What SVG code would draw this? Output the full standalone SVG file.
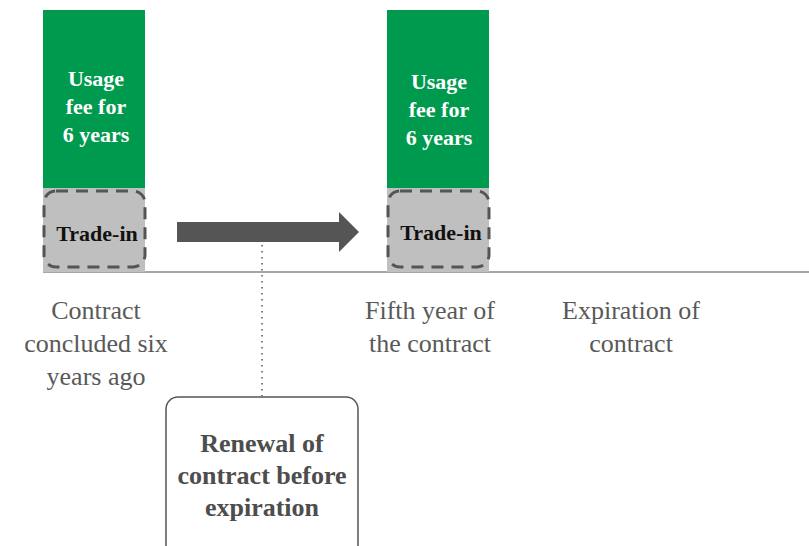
<svg xmlns="http://www.w3.org/2000/svg" width="809" height="546" viewBox="0 0 809 546">
<style>
.green{fill:#009a4e}
.gray{fill:#bfbfbf}
.dash{fill:none;stroke:#555;stroke-width:3;stroke-dasharray:12 8}
</style>
<rect x="0" y="0" width="809" height="546" fill="#fff"/>
<g id="connectors">
<line x1="43" y1="272" x2="809" y2="272" stroke="#a6a6a6" stroke-width="2"/>
<polygon points="177,222 339,222 339,212 359,232 339,252 339,242 177,242" fill="#555"/>
<line x1="262" y1="233" x2="262" y2="396" stroke="#555" stroke-width="1.5" stroke-dasharray="1.5 4.5"/>
</g>
<g id="bar1">
<rect class="green" x="43" y="10" width="102" height="178"/>
<text x="96" y="86" font-family="Liberation Serif" font-weight="bold" font-size="22" fill="#fff" text-anchor="middle">Usage</text>
<text x="96" y="114" font-family="Liberation Serif" font-weight="bold" font-size="22" fill="#fff" text-anchor="middle">fee for</text>
<text x="96" y="142" font-family="Liberation Serif" font-weight="bold" font-size="22" fill="#fff" text-anchor="middle">6 years</text>
</g>
<g id="tradein1">
<rect class="gray" x="43" y="188" width="102" height="84"/>
<rect class="dash" x="44" y="191" width="101" height="76" rx="12"/>
<text x="97" y="241" font-family="Liberation Serif" font-weight="bold" font-size="22" fill="#111" text-anchor="middle">Trade-in</text>
</g>
<g id="bar2">
<rect class="green" x="387" y="10" width="102" height="178"/>
<text x="439" y="89" font-family="Liberation Serif" font-weight="bold" font-size="22" fill="#fff" text-anchor="middle">Usage</text>
<text x="439" y="117" font-family="Liberation Serif" font-weight="bold" font-size="22" fill="#fff" text-anchor="middle">fee for</text>
<text x="439" y="145" font-family="Liberation Serif" font-weight="bold" font-size="22" fill="#fff" text-anchor="middle">6 years</text>
</g>
<g id="tradein2">
<rect class="gray" x="387" y="188" width="102" height="84"/>
<rect class="dash" x="388" y="191" width="101" height="76" rx="12"/>
<text x="441" y="240" font-family="Liberation Serif" font-weight="bold" font-size="22" fill="#111" text-anchor="middle">Trade-in</text>
</g>
<g id="label1">
<text x="96" y="319" font-family="Liberation Serif" font-size="26" fill="#595959" text-anchor="middle">Contract</text>
<text x="96" y="352" font-family="Liberation Serif" font-size="26" fill="#595959" text-anchor="middle">concluded six</text>
<text x="96" y="385" font-family="Liberation Serif" font-size="26" fill="#595959" text-anchor="middle">years ago</text>
</g>
<g id="label2">
<text x="430" y="319" font-family="Liberation Serif" font-size="26" fill="#595959" text-anchor="middle">Fifth year of</text>
<text x="430" y="352" font-family="Liberation Serif" font-size="26" fill="#595959" text-anchor="middle">the contract</text>
</g>
<g id="label3">
<text x="631" y="319" font-family="Liberation Serif" font-size="26" fill="#595959" text-anchor="middle">Expiration of</text>
<text x="631" y="352" font-family="Liberation Serif" font-size="26" fill="#595959" text-anchor="middle">contract</text>
</g>
<g id="renewal">
<rect x="166" y="397" width="192" height="165" rx="12" fill="#fff" stroke="#555" stroke-width="1.5"/>
<text x="262" y="452" font-family="Liberation Serif" font-weight="bold" font-size="26" fill="#4d4d4d" text-anchor="middle">Renewal of</text>
<text x="262" y="484" font-family="Liberation Serif" font-weight="bold" font-size="26" fill="#4d4d4d" text-anchor="middle">contract before</text>
<text x="262" y="516" font-family="Liberation Serif" font-weight="bold" font-size="26" fill="#4d4d4d" text-anchor="middle">expiration</text>
</g>
</svg>
